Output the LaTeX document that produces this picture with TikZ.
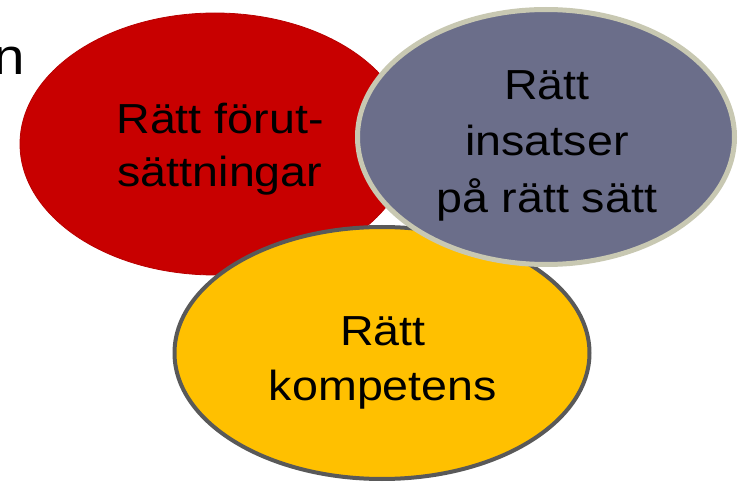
\documentclass[tikz,border=0pt]{standalone}
\usepackage{fontspec}
\setmainfont{Liberation Sans}
\usetikzlibrary{shapes.geometric}
\definecolor{cred}{HTML}{C80000}
\definecolor{credline}{HTML}{B80000}
\definecolor{cgray}{HTML}{6B6E8A}
\definecolor{cgrayline}{HTML}{C8C8B2}
\definecolor{cyel}{HTML}{FFC000}
\definecolor{cyelline}{HTML}{595959}
\tikzset{
  blob/.style={ellipse, inner sep=0pt, outer sep=0pt},
  lbl/.style={align=center, inner sep=0pt, xscale=1.11, text=black},
}
\begin{document}
\begin{tikzpicture}[x=1pt,y=-1pt]
\useasboundingbox (0,0) rectangle (740,484);
\node[lbl, font=\fontsize{51}{60}\selectfont, anchor=base east] (cut) at (25,75) {n};
\node[blob, fill=cred, draw=credline, line width=0.8pt, minimum width=390, minimum height=262] (red) at (215,144) {};
\node[blob, fill=cyel, draw=cyelline, line width=4pt, minimum width=415, minimum height=252] (yel) at (382,353) {};
\node[blob, fill=cgray, draw=cgrayline, line width=5pt, minimum width=377, minimum height=255] (gray) at (546,137) {};
\node[lbl, font=\fontsize{42}{53.5}\selectfont, anchor=base] (tred) at (220,187) {Rätt förut-\\sättningar};
\node[lbl, font=\fontsize{42}{57}\selectfont, anchor=base] (tgray) at (547,213) {Rätt\\insatser\\på rätt sätt};
\node[lbl, font=\fontsize{42}{55}\selectfont, anchor=base] (tyel) at (383,400) {Rätt\\kompetens};
\end{tikzpicture}
\end{document}
